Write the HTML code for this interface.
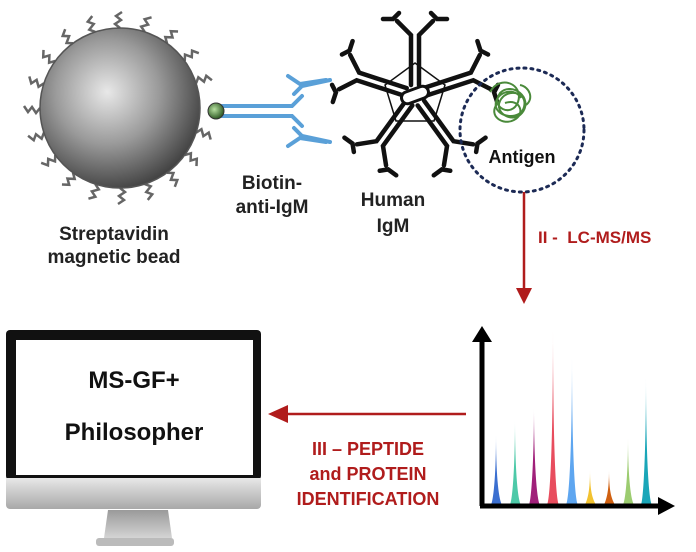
<!DOCTYPE html>
<html><head><meta charset="utf-8"><style>
html,body{margin:0;padding:0;background:#fff;width:696px;height:552px;overflow:hidden}
svg text{font-family:"Liberation Sans",sans-serif;font-weight:bold}
</style></head><body>
<svg width="696" height="552" viewBox="0 0 696 552" xmlns="http://www.w3.org/2000/svg">
<defs>
<radialGradient id="bead" cx="0.42" cy="0.4" r="0.65">
<stop offset="0" stop-color="#e8e8e8"/><stop offset="0.5" stop-color="#9a9a9a"/><stop offset="1" stop-color="#3a3a3a"/></radialGradient>
<radialGradient id="gd" cx="0.4" cy="0.4" r="0.6"><stop offset="0" stop-color="#b6e0a0"/><stop offset="1" stop-color="#2f5a25"/></radialGradient>
<linearGradient id="chin" x1="0" y1="0" x2="0" y2="1"><stop offset="0" stop-color="#e8e8e8"/><stop offset="1" stop-color="#a8a8a8"/></linearGradient>
<linearGradient id="stand" x1="0" y1="0" x2="0" y2="1"><stop offset="0" stop-color="#9a9a9a"/><stop offset="1" stop-color="#d4d4d4"/></linearGradient>
<linearGradient id="fade" x1="0" y1="0" x2="0" y2="1"><stop offset="0" stop-color="#fff" stop-opacity="0.9"/><stop offset="0.6" stop-color="#fff" stop-opacity="0"/></linearGradient>
</defs>
<g transform="translate(120,108)" stroke="#666" stroke-width="2.5" fill="none">
<path d="M0,-80 l-5,-4 l6,-4 l-5,-4 l6,-4" transform="rotate(0)"/>
<path d="M0,-80 l-5,-4 l6,-4 l-5,-4 l6,-4" transform="rotate(18)"/>
<path d="M0,-80 l-5,-4 l6,-4 l-5,-4 l6,-4" transform="rotate(36)"/>
<path d="M0,-80 l-5,-4 l6,-4 l-5,-4 l6,-4" transform="rotate(54)"/>
<path d="M0,-80 l-5,-4 l6,-4 l-5,-4 l6,-4" transform="rotate(72)"/>
<path d="M0,-80 l-5,-4 l6,-4 l-5,-4 l6,-4" transform="rotate(108)"/>
<path d="M0,-80 l-5,-4 l6,-4 l-5,-4 l6,-4" transform="rotate(126)"/>
<path d="M0,-80 l-5,-4 l6,-4 l-5,-4 l6,-4" transform="rotate(144)"/>
<path d="M0,-80 l-5,-4 l6,-4 l-5,-4 l6,-4" transform="rotate(162)"/>
<path d="M0,-80 l-5,-4 l6,-4 l-5,-4 l6,-4" transform="rotate(180)"/>
<path d="M0,-80 l-5,-4 l6,-4 l-5,-4 l6,-4" transform="rotate(198)"/>
<path d="M0,-80 l-5,-4 l6,-4 l-5,-4 l6,-4" transform="rotate(216)"/>
<path d="M0,-80 l-5,-4 l6,-4 l-5,-4 l6,-4" transform="rotate(234)"/>
<path d="M0,-80 l-5,-4 l6,-4 l-5,-4 l6,-4" transform="rotate(252)"/>
<path d="M0,-80 l-5,-4 l6,-4 l-5,-4 l6,-4" transform="rotate(270)"/>
<path d="M0,-80 l-5,-4 l6,-4 l-5,-4 l6,-4" transform="rotate(288)"/>
<path d="M0,-80 l-5,-4 l6,-4 l-5,-4 l6,-4" transform="rotate(306)"/>
<path d="M0,-80 l-5,-4 l6,-4 l-5,-4 l6,-4" transform="rotate(324)"/>
<path d="M0,-80 l-5,-4 l6,-4 l-5,-4 l6,-4" transform="rotate(342)"/>
</g>
<circle cx="120" cy="108" r="80" fill="url(#bead)" stroke="#555" stroke-width="1.5"/>
<!-- anti-IgM -->
<g stroke="#5aa0d8" stroke-width="4" fill="none" stroke-linecap="round">
<path d="M222,106 H292 L302,96 M294,94 l8,-8 l28,-6"/>
<path d="M222,116 H292 L302,126 M294,128 l8,8 l28,6"/>
<path d="M288,76 l12,8 l26,-4"/>
<path d="M288,146 l12,-8 l26,4"/>
</g>
<circle cx="216" cy="111" r="8" fill="url(#gd)" stroke="#333" stroke-width="1"/>
<!-- IgM -->
<g transform="translate(415,95)">
<polygon points="0,-32 30,-10 19,26 -19,26 -30,-10" fill="none" stroke="#111" stroke-width="1.5"/>
<g stroke="#111" stroke-width="4.5" fill="none" stroke-linecap="round">
<g id="arm"><path d="M-4,-10 V-60 L-18,-74 M4,-10 V-60 L18,-74"/><path d="M-16,-82 l-6,6 l-10,0 M16,-82 l6,6 l10,0"/></g>
<use href="#arm" transform="rotate(72)"/>
<use href="#arm" transform="rotate(144)"/>
<use href="#arm" transform="rotate(216)"/>
<use href="#arm" transform="rotate(288)"/>
</g>
<rect x="-14" y="-6" width="28" height="12" rx="6" fill="#fff" stroke="#111" stroke-width="3" transform="rotate(-20)"/>
</g>
<!-- antigen -->
<circle cx="522" cy="130" r="62" fill="none" stroke="#1c2a55" stroke-width="3" stroke-dasharray="2 5" stroke-linecap="round"/>
<g stroke="#4a8a3a" stroke-width="2" fill="none">
<path d="M490,92 c10,-18 34,-8 28,10 c-6,16 -28,6 -18,-9 c12,-12 34,5 22,20 c-9,11 -28,0 -22,-12 c6,-13 28,-10 24,6 c-3,13 -25,11 -28,0 c-3,-13 17,-22 25,-9"/>
<path d="M497,104 c-9,12 6,22 17,16 c12,-6 6,-22 -9,-17 M520,85 c10,2 14,14 6,20"/>
</g>
<text x="522" y="163" font-size="18" text-anchor="middle" fill="#111">Antigen</text>
<!-- labels -->
<text x="114" y="240" font-size="19" text-anchor="middle" fill="#222">Streptavidin</text>
<text x="114" y="263" font-size="19" text-anchor="middle" fill="#222">magnetic bead</text>
<text x="272" y="189" font-size="19" text-anchor="middle" fill="#222">Biotin-</text>
<text x="272" y="213" font-size="19" text-anchor="middle" fill="#222">anti-IgM</text>
<text x="393" y="206" font-size="19" text-anchor="middle" fill="#222">Human</text>
<text x="393" y="232" font-size="19" text-anchor="middle" fill="#222">IgM</text>
<!-- LC-MS arrow -->
<line x1="524" y1="192" x2="524" y2="290" stroke="#b01c1c" stroke-width="2.5"/>
<polygon points="516,288 532,288 524,304" fill="#b01c1c"/>
<text x="538" y="243" font-size="17" fill="#b01c1c" xml:space="preserve">II -  LC-MS/MS</text>
<!-- chart -->
<g>
<path d="M491,505 C494,498 496,470 496,435 C496,470 498,498 502,505Z" fill="#3b6fd0"/>
<path d="M510,505 C513,498 515,460 515,420 C515,460 517,498 521,505Z" fill="#4dc9a8"/>
<path d="M529,505 C532,498 534,450 534,408 C534,450 536,498 540,505Z" fill="#a0207a"/>
<path d="M547,505 C551,498 553,420 553,330 C553,420 555,498 559,505Z" fill="#e84d5e"/>
<path d="M566,505 C570,498 572,430 572,358 C572,430 574,498 578,505Z" fill="#5ea6f0"/>
<path d="M585,505 C588,498 590,490 590,470 C590,490 592,498 596,505Z" fill="#f2c230"/>
<path d="M604,505 C607,498 609,490 609,470 C609,490 611,498 615,505Z" fill="#d06010"/>
<path d="M623,505 C626,498 628,470 628,438 C628,470 630,498 634,505Z" fill="#9ccc70"/>
<path d="M641,505 C644,498 646,440 646,378 C646,440 648,498 652,505Z" fill="#1aa6b8"/>
</g>
<g stroke="#000" stroke-width="5"><line x1="482" y1="340" x2="482" y2="506"/><line x1="480" y1="506" x2="660" y2="506"/></g>
<polygon points="472,342 492,342 482,326" fill="#000"/>
<polygon points="658,497 658,515 675,506" fill="#000"/>
<!-- identification arrow -->
<line x1="285" y1="414" x2="466" y2="414" stroke="#b01c1c" stroke-width="2.5"/>
<polygon points="268,414 288,405 288,423" fill="#b01c1c"/>
<text x="368" y="455" font-size="18" text-anchor="middle" fill="#b01c1c">III – PEPTIDE</text>
<text x="368" y="480" font-size="18" text-anchor="middle" fill="#b01c1c">and PROTEIN</text>
<text x="368" y="505" font-size="18" text-anchor="middle" fill="#b01c1c">IDENTIFICATION</text>
<!-- monitor -->
<rect x="6" y="330" width="255" height="150" rx="4" fill="#111"/>
<rect x="16" y="340" width="237" height="135" fill="#fff"/>
<path d="M6,478 H261 V505 a4,4 0 0 1 -4,4 H10 a4,4 0 0 1 -4,-4Z" fill="url(#chin)"/>
<path d="M108,510 H168 L172,538 H104Z" fill="url(#stand)"/>
<rect x="96" y="538" width="78" height="8" rx="3" fill="#bbb"/>
<text x="134" y="388" font-size="24" text-anchor="middle" fill="#111">MS-GF+</text>
<text x="134" y="440" font-size="24" text-anchor="middle" fill="#111">Philosopher</text>
</svg>
</body></html>
